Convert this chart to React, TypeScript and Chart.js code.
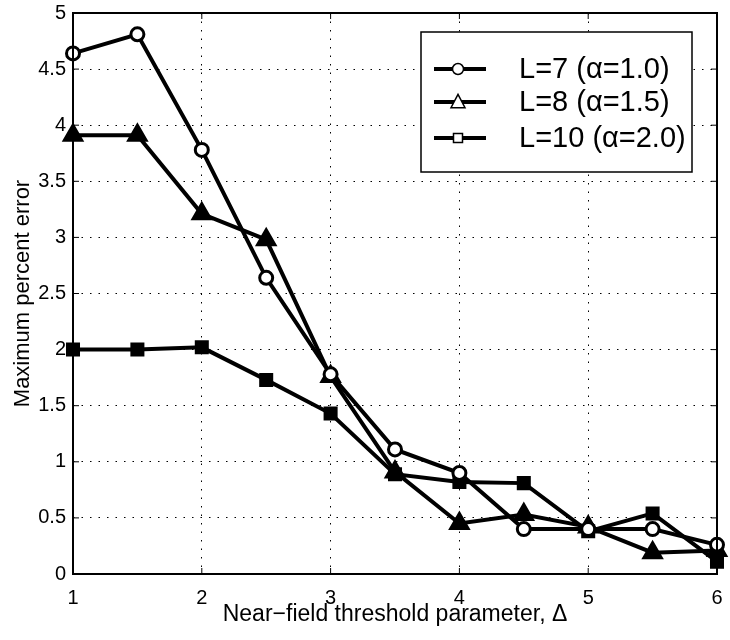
import React, { useEffect, useRef } from "react";
import { Chart, registerables } from "chart.js";

Chart.register(...registerables);

// ---- data ----
const deltas = [1, 1.5, 2, 2.5, 3, 3.5, 4, 4.5, 5, 5.5, 6];
const errL7 = [4.64, 4.81, 3.78, 2.64, 1.78, 1.11, 0.9, 0.4, 0.4, 0.4, 0.26];
const errL8 = [3.91, 3.91, 3.21, 2.98, 1.76, 0.91, 0.45, 0.53, 0.42, 0.19, 0.21];
const errL10 = [2.0, 2.0, 2.02, 1.73, 1.43, 0.89, 0.82, 0.81, 0.38, 0.54, 0.11];
const seriesLabels = ["L=7 (\u03b1=1.0)", "L=8 (\u03b1=1.5)", "L=10 (\u03b1=2.0)"];
const xTickValues = [1, 2, 3, 4, 5, 6];
const yTickValues = [0, 0.5, 1, 1.5, 2, 2.5, 3, 3.5, 4, 4.5, 5];
const xTitle = "Near\u2212field threshold parameter, \u0394";
const yTitle = "Maximum percent error";

const FONT = "'Liberation Sans', Arial, Helvetica, sans-serif";

function drawMarker(ctx: CanvasRenderingContext2D, kind: string, x: number, y: number, r: number) {
  ctx.beginPath();
  if (kind === "circle") {
    ctx.arc(x, y, r, 0, Math.PI * 2);
  } else if (kind === "triangle") {
    const h = r * 1.1;
    ctx.moveTo(x, y - h);
    ctx.lineTo(x + r, y + h * 0.75);
    ctx.lineTo(x - r, y + h * 0.75);
    ctx.closePath();
  } else {
    ctx.rect(x - r, y - r, 2 * r, 2 * r);
  }
  ctx.fillStyle = "#fff";
  ctx.fill();
  ctx.stroke();
}

const framePlugin = {
  id: "frame",
  afterDraw(chart: any) {
    const { ctx, chartArea: a, scales } = chart;
    ctx.save();
    ctx.strokeStyle = "#000";
    ctx.lineWidth = 1;
    const tl = 6;
    xTickValues.forEach((v) => {
      const px = scales.x.getPixelForValue(v);
      ctx.beginPath();
      ctx.moveTo(px, a.bottom);
      ctx.lineTo(px, a.bottom - tl);
      ctx.moveTo(px, a.top);
      ctx.lineTo(px, a.top + tl);
      ctx.stroke();
    });
    yTickValues.forEach((v) => {
      const py = scales.y.getPixelForValue(v);
      ctx.beginPath();
      ctx.moveTo(a.left, py);
      ctx.lineTo(a.left + tl, py);
      ctx.moveTo(a.right, py);
      ctx.lineTo(a.right - tl, py);
      ctx.stroke();
    });
    ctx.lineWidth = 2;
    ctx.strokeRect(a.left, a.top, a.right - a.left, a.bottom - a.top);

    // legend
    const lw = 271;
    const lh = 140;
    const lx = a.right - 25 - lw;
    const ly = a.top + 19;
    ctx.fillStyle = "#fff";
    ctx.fillRect(lx, ly, lw, lh);
    ctx.lineWidth = 1.5;
    ctx.strokeRect(lx, ly, lw, lh);
    const rows = [37, 70, 106];
    const kinds = ["circle", "triangle", "rect"];
    const radii = [5.5, 7, 4.5];
    ctx.font = `29px ${FONT}`;
    ctx.textBaseline = "middle";
    ctx.textAlign = "left";
    seriesLabels.forEach((label, i) => {
      const y = ly + rows[i];
      ctx.strokeStyle = "#000";
      ctx.lineWidth = 4;
      ctx.beginPath();
      ctx.moveTo(lx + 13, y);
      ctx.lineTo(lx + 65, y);
      ctx.stroke();
      ctx.lineWidth = 1.5;
      drawMarker(ctx, kinds[i], lx + 37, y, radii[i]);
      ctx.fillStyle = "#000";
      ctx.fillText(label, lx + 98, y + 1);
    });
    ctx.restore();
  },
};

export default function App() {
  const canvasRef = useRef<HTMLCanvasElement | null>(null);

  useEffect(() => {
    if (!canvasRef.current) return;
    Chart.defaults.color = "#000";
    Chart.defaults.font.family = FONT;
    const mk = (arr: number[]) => deltas.map((d, i) => ({ x: d, y: arr[i] }));
    const chart = new Chart(canvasRef.current, {
      type: "line",
      data: {
        datasets: [
          {
            label: seriesLabels[0],
            data: mk(errL7),
            borderColor: "#000",
            borderWidth: 4,
            pointStyle: "circle",
            pointRadius: 6.5,
            pointBorderWidth: 3,
            pointBackgroundColor: "#fff",
            pointBorderColor: "#000",
            clip: false as any,
          },
          {
            label: seriesLabels[1],
            data: mk(errL8),
            borderColor: "#000",
            borderWidth: 4,
            pointStyle: "triangle",
            pointRadius: 11,
            pointBorderWidth: 2,
            pointBackgroundColor: "#000",
            pointBorderColor: "#000",
            clip: false as any,
          },
          {
            label: seriesLabels[2],
            data: mk(errL10),
            borderColor: "#000",
            borderWidth: 4,
            pointStyle: "rect",
            pointRadius: 8.5,
            pointBorderWidth: 2,
            pointBackgroundColor: "#000",
            pointBorderColor: "#000",
            clip: false as any,
          },
        ],
      },
      options: {
        responsive: false,
        animation: false,
        layout: { padding: { top: 12, right: 9, left: 0, bottom: 0 } },
        plugins: { legend: { display: false }, tooltip: { enabled: false } },
        elements: { line: { tension: 0 } },
        scales: {
          x: {
            type: "linear",
            min: 1,
            max: 6,
            afterBuildTicks: (s: any) => {
              s.ticks = xTickValues.map((v) => ({ value: v }));
            },
            afterFit: (s: any) => {
              s.height = 66;
              s.paddingLeft = 0;
              s.paddingRight = 0;
            },
            ticks: {
              font: { size: 20, family: FONT },
              padding: 12,
              maxRotation: 0,
              callback: (v: any) => String(v),
            },
            grid: { color: "#000", lineWidth: 1, drawTicks: false },
            border: { display: false, dash: [1.5, 7] },
            title: {
              display: true,
              text: xTitle,
              font: { size: 23, family: FONT },
              padding: { top: 0, bottom: 12 },
            },
          },
          y: {
            type: "linear",
            min: 0,
            max: 5,
            afterBuildTicks: (s: any) => {
              s.ticks = yTickValues.map((v) => ({ value: v }));
            },
            afterFit: (s: any) => {
              s.width = 73;
              s.paddingTop = 0;
              s.paddingBottom = 0;
            },
            ticks: {
              font: { size: 20, family: FONT },
              padding: 7,
              callback: (v: any) => String(v),
            },
            grid: { color: "#000", lineWidth: 1, drawTicks: false },
            border: { display: false, dash: [1.5, 7] },
            title: {
              display: true,
              text: yTitle,
              font: { size: 22, family: FONT },
              padding: { top: 10, bottom: 0 },
            },
          },
        },
      },
      plugins: [framePlugin],
    });
    return () => chart.destroy();
  }, []);

  return (
    <div style={{ position: "absolute", left: 0, top: 0, width: 730, height: 640, background: "#fff" }}>
      <canvas ref={canvasRef} width={730} height={640} style={{ display: "block" }} />
    </div>
  );
}
